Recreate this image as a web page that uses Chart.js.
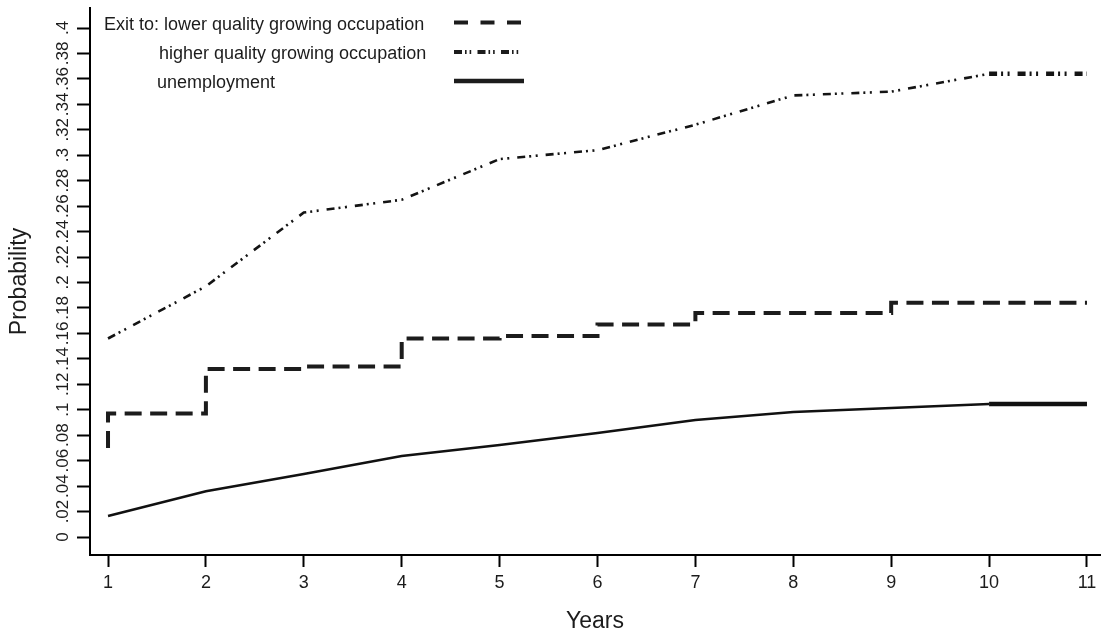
<!DOCTYPE html>
<html>
<head>
<meta charset="utf-8">
<script src="https://cdn.jsdelivr.net/npm/chart.js@4/dist/chart.umd.min.js"></script>
<style>
  html, body { margin: 0; padding: 0; background: #ffffff; }
  #wrap { width: 1102px; height: 635px; }
</style>
</head>
<body>
<div id="wrap"><canvas id="chart" width="1102" height="635"></canvas></div>
<script>
// Years since entry and the estimated exit probabilities
const years = [1, 2, 3, 4, 5, 6, 7, 8, 9, 10, 11];
const lowerQuality  = [0.070, 0.097, 0.132, 0.134, 0.156, 0.158, 0.167, 0.176, 0.176, 0.184, 0.184];
const higherQuality = [0.156, 0.197, 0.255, 0.265, 0.297, 0.304, 0.324, 0.347, 0.350, 0.364, 0.364];
const unemployment  = [0.0165, 0.036, 0.0495, 0.0637, 0.0723, 0.0817, 0.092, 0.0982, 0.1014, 0.1045, 0.1045];

// Axis ticks
const xTickValues = years;
const xTickLabels = ['1', '2', '3', '4', '5', '6', '7', '8', '9', '10', '11'];
const yTickValues = [0, 0.02, 0.04, 0.06, 0.08, 0.1, 0.12, 0.14, 0.16, 0.18, 0.2,
                     0.22, 0.24, 0.26, 0.28, 0.3, 0.32, 0.34, 0.36, 0.38, 0.4];
const yTickLabels = ['0', '.02', '.04', '.06', '.08', '.1', '.12', '.14', '.16', '.18', '.2',
                     '.22', '.24', '.26', '.28', '.3', '.32', '.34', '.36', '.38', '.4'];

// Legend text
const legendPrefix = 'Exit to:';
const seriesNames = ['lower quality growing occupation', 'higher quality growing occupation', 'unemployment'];

const FONT = "'Liberation Sans', Arial, Helvetica, sans-serif";
const INK = '#1c1c1c';

const toPoints = (vals) => vals.map((v, i) => ({ x: years[i], y: v }));
const lastIdx = years.length - 1;

// Stata-like legend block in the upper left corner
const legendBlock = {
  id: 'legendBlock',
  afterDraw(chart) {
    const ctx = chart.ctx;
    ctx.save();
    ctx.fillStyle = INK;
    ctx.font = '18px ' + FONT;
    ctx.textBaseline = 'alphabetic';
    ctx.textAlign = 'left';
    ctx.fillText(legendPrefix + ' ' + seriesNames[0], 104, 30);
    ctx.fillText(seriesNames[1], 159, 59);
    ctx.fillText(seriesNames[2], 157, 88);

    const samples = [
      { y: 22.5, dash: [14, 12.5], width: 4 },
      { y: 52, dash: [8, 3, 1.6, 3, 1.6, 6.3], width: 4 },
      { y: 81, dash: [], width: 4.5 }
    ];
    ctx.strokeStyle = INK;
    ctx.lineCap = 'butt';
    samples.forEach(s => {
      ctx.beginPath();
      ctx.setLineDash(s.dash);
      ctx.lineWidth = s.width;
      ctx.moveTo(454, s.y);
      ctx.lineTo(524, s.y);
      ctx.stroke();
    });
    ctx.restore();
  }
};

new Chart(document.getElementById('chart'), {
  type: 'line',
  data: {
    datasets: [
      {
        label: seriesNames[0],
        data: toPoints(lowerQuality),
        // vertical rise at each year, then flat until the next one
        stepped: 'after',
        borderColor: INK,
        borderWidth: 4,
        borderDash: [17, 8.5],
        borderCapStyle: 'butt',
        borderJoinStyle: 'miter',
        pointRadius: 0,
        fill: false
      },
      {
        label: seriesNames[1],
        data: toPoints(higherQuality),
        borderColor: '#141414',
        borderWidth: 2.6,
        borderDash: [8, 4, 2, 4.5, 2, 8],
        borderCapStyle: 'butt',
        pointRadius: 0,
        tension: 0,
        fill: false,
        segment: {
          borderWidth: c => (c.p1DataIndex === lastIdx ? 4.6 : 2.6)
        }
      },
      {
        label: seriesNames[2],
        data: toPoints(unemployment),
        borderColor: '#111111',
        borderWidth: 2.6,
        borderCapStyle: 'butt',
        pointRadius: 0,
        tension: 0,
        fill: false,
        segment: {
          borderWidth: c => (c.p1DataIndex === lastIdx ? 4.4 : 2.6)
        }
      }
    ]
  },
  options: {
    responsive: false,
    animation: false,
    devicePixelRatio: 1,
    layout: { padding: { top: 8, right: 2, left: 0, bottom: 0 } },
    plugins: {
      legend: { display: false },
      tooltip: { enabled: false }
    },
    scales: {
      x: {
        type: 'linear',
        min: 0.816,
        max: 11.133,
        afterBuildTicks: (s) => { s.ticks = xTickValues.map(v => ({ value: v })); },
        afterFit: (s) => {
          s.height = 80;
          s.paddingLeft = 0; s.paddingRight = 0; s.paddingTop = 0; s.paddingBottom = 0;
        },
        grid: {
          drawOnChartArea: false,
          drawTicks: true,
          tickLength: 12,
          tickWidth: 2,
          tickColor: '#000'
        },
        border: { display: true, color: '#000', width: 2 },
        ticks: {
          autoSkip: false,
          maxRotation: 0,
          minRotation: 0,
          padding: 5,
          color: INK,
          font: { family: FONT, size: 18 },
          callback: (v, i) => xTickLabels[i]
        },
        title: {
          display: true,
          text: 'Years',
          color: INK,
          font: { family: FONT, size: 23 },
          padding: { top: 0, bottom: 0 }
        }
      },
      y: {
        type: 'linear',
        min: -0.014145,
        max: 0.41572,
        afterBuildTicks: (s) => { s.ticks = yTickValues.map(v => ({ value: v })); },
        afterFit: (s) => {
          s.width = 90;
          s.paddingLeft = 0; s.paddingRight = 0; s.paddingTop = 0; s.paddingBottom = 0;
        },
        grid: {
          drawOnChartArea: false,
          drawTicks: true,
          tickLength: 13,
          tickWidth: 2,
          tickColor: '#000'
        },
        border: { display: true, color: '#000', width: 2 },
        ticks: {
          autoSkip: false,
          minRotation: 90,
          maxRotation: 90,
          crossAlign: 'center',
          padding: 2,
          color: INK,
          font: { family: FONT, size: 17 },
          callback: (v, i) => yTickLabels[i]
        },
        title: {
          display: true,
          text: 'Probability',
          color: INK,
          font: { family: FONT, size: 23 },
          padding: { top: 6, bottom: 0 }
        }
      }
    }
  },
  plugins: [legendBlock]
});
</script>
</body>
</html>
